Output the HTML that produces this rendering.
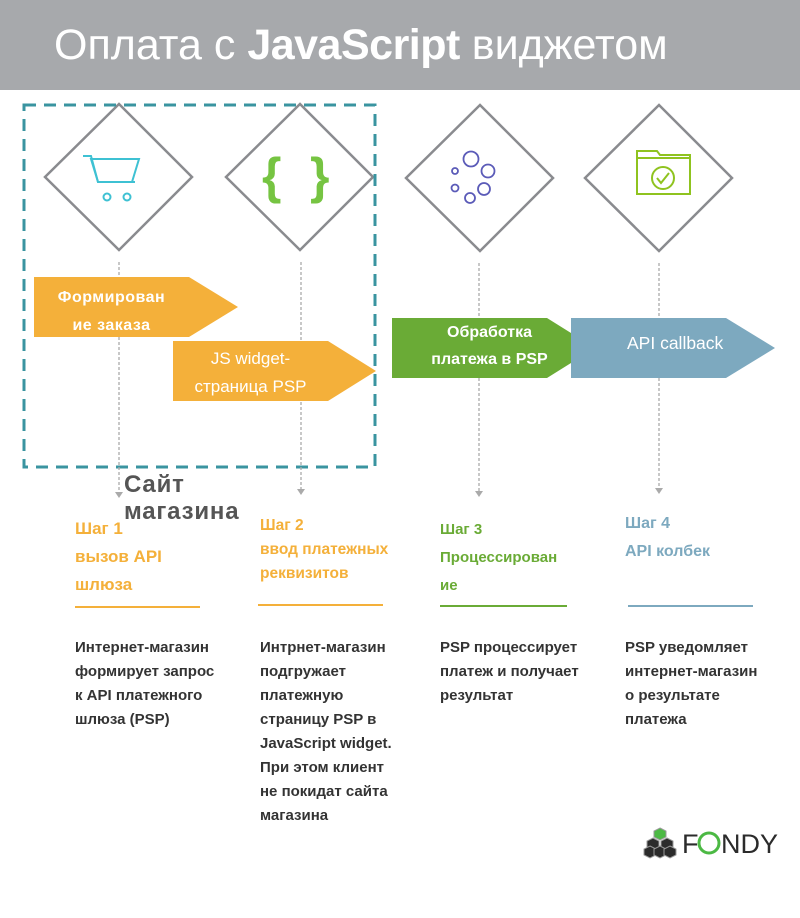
<!DOCTYPE html>
<html><head><meta charset="utf-8"><style>
body{margin:0;width:800px;height:918px;background:#fff;position:relative;overflow:hidden;font-family:"Liberation Sans",sans-serif}
.hdr{position:absolute;left:0;top:0;width:800px;height:90px;background:#a7a9ac}
.t{position:absolute;white-space:nowrap}
.h{font-weight:bold;font-size:16px;line-height:28px}
.d{font-weight:bold;font-size:15px;line-height:24px;color:#333}
</style></head><body>
<div class="hdr"></div>
<div class="t" style="left:54px;top:20px;font-size:43px;color:#fff;line-height:50px">Оплата с <span style="font-weight:bold;letter-spacing:-0.5px">JavaScript</span> виджетом</div>
<svg width="800" height="918" style="position:absolute;left:0;top:0">
<g fill="#fff" stroke="#8a8b8f" stroke-width="2.5">
<polygon points="119,104 192,177 119,250 45,177"/>
<polygon points="300,104 373,177 300,250 226,177"/>
<polygon points="480,105 553,178 480,251 406,178"/>
<polygon points="659,105 732,178 659,251 585,178"/>
</g>
<rect x="24" y="105" width="351" height="362" fill="none" stroke="#3a94a0" stroke-width="3" stroke-dasharray="12,8"/>
<g stroke="#aaa" stroke-width="1.3" stroke-dasharray="3,2">
<line x1="119" y1="262" x2="119" y2="494"/><line x1="301" y1="262" x2="301" y2="490"/>
<line x1="479" y1="263" x2="479" y2="492"/><line x1="659" y1="263" x2="659" y2="489"/>
</g>
<g fill="#aaa">
<polygon points="115,492 123,492 119,498"/><polygon points="297,489 305,489 301,495"/>
<polygon points="475,491 483,491 479,497"/><polygon points="655,488 663,488 659,494"/>
</g>
<g fill="none" stroke="#3ec1d3" stroke-width="2">
<polyline points="83,156 91,156 98,182 135,182"/><polygon points="91,159 139,159 132,182 98,182"/>
<circle cx="107" cy="197" r="3.5"/><circle cx="127" cy="197" r="3.5"/>
</g>
<text x="262" y="193" font-size="50" font-weight="bold" fill="#76c442" font-family="Liberation Sans">{</text>
<text x="310" y="193" font-size="50" font-weight="bold" fill="#76c442" font-family="Liberation Sans">}</text>
<g fill="none" stroke="#5b5bb8" stroke-width="1.8">
<circle cx="471" cy="159" r="7.5"/><circle cx="488" cy="171" r="6.5"/><circle cx="455" cy="171" r="3"/>
<circle cx="455" cy="188" r="3.5"/><circle cx="484" cy="189" r="6"/><circle cx="470" cy="198" r="5"/>
</g>
<g fill="none" stroke="#8fc31f" stroke-width="2">
<path d="M637,151 h20 l3,4 h30 v39 h-53 z"/><line x1="637" y1="158" x2="690" y2="158"/>
<circle cx="663" cy="178" r="11"/><polyline points="657,178 661,183 669,173"/>
</g>
<polygon points="34,277 189,277 238,307 189,337 34,337" fill="#f4b03a"/>
<polygon points="173,341 328,341 376,371 328,401 173,401" fill="#f4b03a"/>
<polygon points="392,318 547,318 595,348 547,378 392,378" fill="#6aab36"/>
<polygon points="571,318 726,318 775,348 726,378 571,378" fill="#7da9bf"/>
<g stroke-width="2">
<line x1="75" y1="607" x2="200" y2="607" stroke="#f4b03a"/>
<line x1="258" y1="605" x2="383" y2="605" stroke="#f4b03a"/>
<line x1="440" y1="606" x2="567" y2="606" stroke="#6aab36"/>
<line x1="628" y1="606" x2="753" y2="606" stroke="#7da9bf"/>
</g>
<g stroke="#999" stroke-width="1">
<polygon points="660,828 666,831 666,837 660,840 654,837 654,831" fill="#4cb944"/>
<g fill="#2b2b2b">
<polygon points="653,838 659,841 659,847 653,850 647,847 647,841"/>
<polygon points="667,838 673,841 673,847 667,850 661,847 661,841"/>
<polygon points="646,847 652,850 652,856 646,859 640,856 640,850" transform="translate(4,-1)"/>
<polygon points="660,847 666,850 666,856 660,859 654,856 654,850" transform="translate(0,-1)"/>
<polygon points="674,847 680,850 680,856 674,859 668,856 668,850" transform="translate(-4,-1)"/>
</g></g>
<text x="682" y="853" font-size="27" fill="#2b2b2b" font-family="Liberation Sans">F</text>
<circle cx="709" cy="843" r="10" fill="none" stroke="#4cb944" stroke-width="3"/>
<text x="721" y="853" font-size="27" fill="#2b2b2b" font-family="Liberation Sans">NDY</text>
</svg>
<div class="t" style="left:34px;top:284px;width:155px;text-align:center;color:#fff;font-weight:bold;font-size:16px;letter-spacing:0.5px;line-height:28px">Формирован<br>ие заказа</div>
<div class="t" style="left:173px;top:345px;width:155px;text-align:center;color:#fff;font-size:17px;line-height:28px">JS widget-<br>страница PSP</div>
<div class="t" style="left:392px;top:319px;width:195px;text-align:center;color:#fff;font-weight:bold;font-size:16px;line-height:27px">Обработка<br>платежа в PSP</div>
<div class="t" style="left:627px;top:332px;color:#fff;font-size:17.5px;line-height:22px">API callback</div>
<div class="t" style="left:124px;top:471px;font-weight:bold;font-size:24px;letter-spacing:0.8px;line-height:27px;color:#555">Сайт<br>магазина</div>
<div class="t h" style="left:75px;top:515px;color:#f4b03a;font-size:17px">Шаг 1<br>вызов API<br>шлюза</div>
<div class="t h" style="left:260px;top:514px;color:#f4b03a;font-size:15.5px;line-height:24px">Шаг 2<br>ввод платежных<br>реквизитов</div>
<div class="t h" style="left:440px;top:516px;color:#6aab36;font-size:15px">Шаг 3<br>Процессирован<br>ие</div>
<div class="t h" style="left:625px;top:510px;color:#7da9bf">Шаг 4<br>API колбек</div>
<div class="t d" style="left:75px;top:636px">Интернет-магазин<br>формирует запрос<br>к API платежного<br>шлюза (PSP)</div>
<div class="t d" style="left:260px;top:636px">Интрнет-магазин<br>подгружает<br>платежную<br>страницу PSP в<br>JavaScript widget.<br>При этом клиент<br>не покидат сайта<br>магазина</div>
<div class="t d" style="left:440px;top:636px">PSP процессирует<br>платеж и получает<br>результат</div>
<div class="t d" style="left:625px;top:636px">PSP уведомляет<br>интернет-магазин<br>о результате<br>платежа</div>
</body></html>
